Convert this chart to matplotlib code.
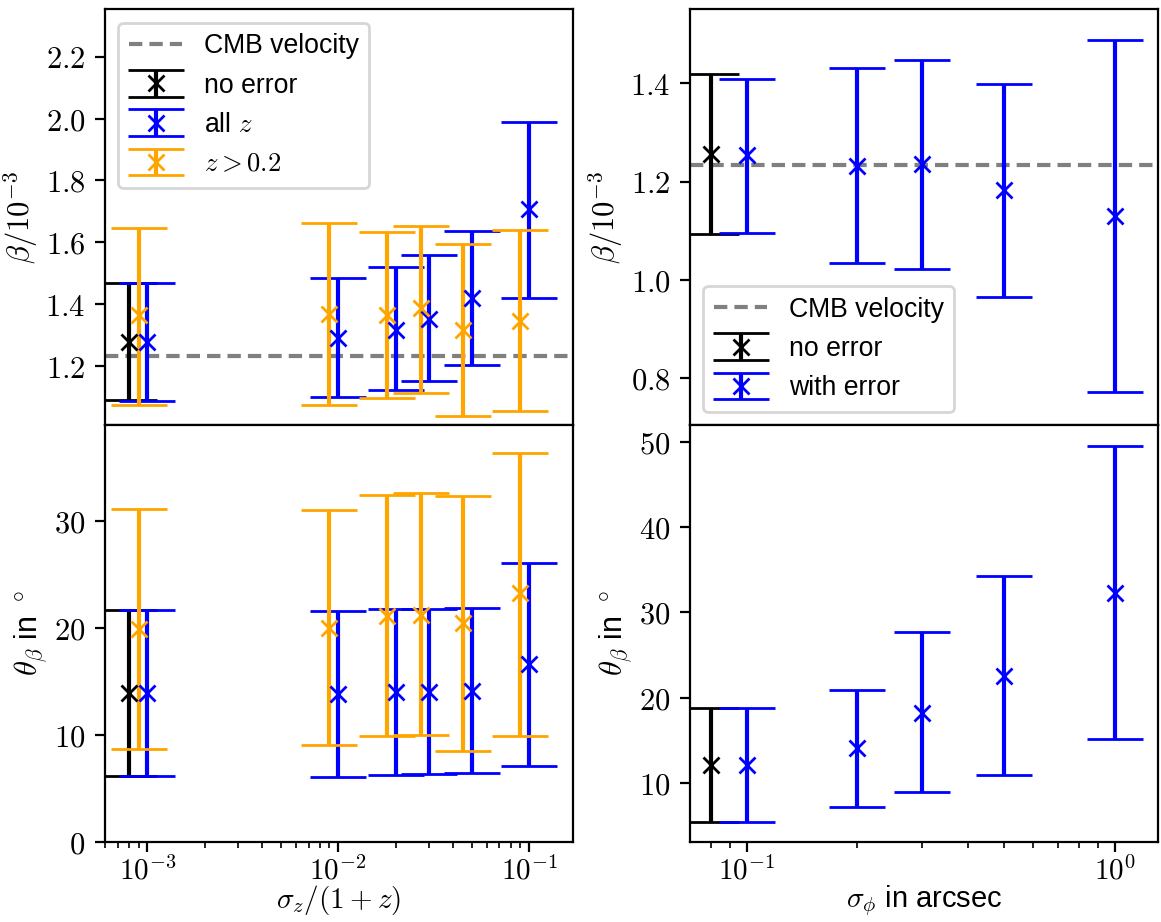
import numpy as np
import matplotlib
matplotlib.use("Agg")
import matplotlib.pyplot as plt
from matplotlib.ticker import FuncFormatter, NullFormatter, MultipleLocator

plt.rcParams['font.family'] = ['Liberation Sans', 'DejaVu Sans']
plt.rcParams['mathtext.fontset'] = 'cm'
plt.rcParams['font.size'] = 11
plt.rcParams['xtick.major.pad'] = 2
plt.rcParams['xtick.labelsize'] = 10.5

cmb_beta = 1.2336

# left column: redshift error sigma_z/(1+z)
sz_noerr = [0.8e-3]
sz_all = [1e-3, 1e-2, 2e-2, 3e-2, 5e-2, 1e-1]
sz_cut = [0.9e-3, 0.9e-2, 1.8e-2, 2.7e-2, 4.5e-2, 0.9e-1]

beta_noerr = [1.278]
beta_noerr_lo = [1.089]
beta_noerr_hi = [1.469]
beta_all = [1.278, 1.292, 1.318, 1.353, 1.420, 1.706]
beta_all_lo = [1.088, 1.100, 1.121, 1.151, 1.204, 1.420]
beta_all_hi = [1.469, 1.485, 1.520, 1.558, 1.637, 1.989]
beta_cut = [1.364, 1.367, 1.364, 1.386, 1.316, 1.346]
beta_cut_lo = [1.075, 1.073, 1.098, 1.113, 1.037, 1.053]
beta_cut_hi = [1.645, 1.661, 1.634, 1.652, 1.596, 1.641]

theta_noerr = [13.9]
theta_noerr_lo = [6.17]
theta_noerr_hi = [21.68]
theta_all = [13.9, 13.85, 14.0, 14.0, 14.1, 16.67]
theta_all_lo = [6.17, 6.02, 6.24, 6.33, 6.43, 7.11]
theta_all_hi = [21.68, 21.62, 21.75, 21.8, 21.84, 26.07]
theta_cut = [19.96, 20.05, 21.12, 21.2, 20.49, 23.3]
theta_cut_lo = [8.68, 9.0, 9.87, 10.0, 8.52, 9.87]
theta_cut_hi = [31.17, 31.08, 32.46, 32.7, 32.4, 36.4]

# right column: position error sigma_phi
sp_noerr = [0.08]
sp_err = [0.1, 0.2, 0.3, 0.5, 1.0]

pbeta_noerr = [1.256]
pbeta_noerr_lo = [1.094]
pbeta_noerr_hi = [1.420]
pbeta_err = [1.254, 1.232, 1.235, 1.182, 1.129]
pbeta_err_lo = [1.096, 1.033, 1.022, 0.965, 0.772]
pbeta_err_hi = [1.409, 1.432, 1.448, 1.399, 1.488]

ptheta_noerr = [12.1]
ptheta_noerr_lo = [5.42]
ptheta_noerr_hi = [18.75]
ptheta_err = [12.1, 14.16, 18.24, 22.51, 32.31]
ptheta_err_lo = [5.42, 7.24, 8.91, 10.93, 15.13]
ptheta_err_hi = [18.83, 20.88, 27.69, 34.22, 49.53]


def err(y, lo, hi):
    y = np.array(y)
    return [y - np.array(lo), np.array(hi) - y]


def eb(ax, x, y, lo, hi, color, label):
    ax.errorbar(x, y, yerr=err(y, lo, hi), fmt='x', color=color,
                capsize=10, label=label)


def logfmt(v, pos):
    return r"$10^{%d}$" % int(round(np.log10(v)))


def beta_axis(ax):
    ax.yaxis.set_major_locator(MultipleLocator(0.2))
    ax.yaxis.set_major_formatter(FuncFormatter(lambda v, p: "$%.1f$" % v))
    ax.set_ylabel(r"$\beta/10^{-3}$", labelpad=2)


def theta_axis(ax):
    ax.yaxis.set_major_locator(MultipleLocator(10))
    ax.yaxis.set_major_formatter(FuncFormatter(lambda v, p: "$%d$" % round(v)))
    ax.set_ylabel(r"$\theta_\beta$ in $^\circ$", labelpad=2)


fig, axs = plt.subplots(2, 2, figsize=(5.805, 4.61), dpi=200, sharex='col')
plt.subplots_adjust(left=0.0904, right=0.9977, top=0.9899, bottom=0.0873,
                    hspace=0, wspace=0.249)

ax = axs[0, 0]
ax.axhline(cmb_beta, color='gray', ls=(0, (3.2, 1.7)), lw=1.5, label='CMB velocity')
eb(ax, sz_noerr, beta_noerr, beta_noerr_lo, beta_noerr_hi, 'k', 'no error')
eb(ax, sz_all, beta_all, beta_all_lo, beta_all_hi, 'b', 'all $z$')
eb(ax, sz_cut, beta_cut, beta_cut_lo, beta_cut_hi, 'orange', '$z > 0.2$')
ax.set_ylim(1.008, 2.353)
beta_axis(ax)
ax.legend(loc='upper left', fontsize=9.6)

ax = axs[1, 0]
eb(ax, sz_noerr, theta_noerr, theta_noerr_lo, theta_noerr_hi, 'k', 'no error')
eb(ax, sz_all, theta_all, theta_all_lo, theta_all_hi, 'b', 'all $z$')
eb(ax, sz_cut, theta_cut, theta_cut_lo, theta_cut_hi, 'orange', '$z > 0.2$')
ax.set_ylim(0, 39)
theta_axis(ax)
ax.set_xscale('log')
ax.set_xlim(6.0e-4, 0.1706)
ax.set_xlabel(r"$\sigma_z/(1+z)$", labelpad=-1, fontsize=10.5)

ax = axs[0, 1]
ax.axhline(cmb_beta, color='gray', ls=(0, (3.2, 1.7)), lw=1.5, label='CMB velocity')
eb(ax, sp_noerr, pbeta_noerr, pbeta_noerr_lo, pbeta_noerr_hi, 'k', 'no error')
eb(ax, sp_err, pbeta_err, pbeta_err_lo, pbeta_err_hi, 'b', 'with error')
ax.set_ylim(0.703, 1.551)
beta_axis(ax)
ax.legend(loc='lower left', fontsize=9.6)

ax = axs[1, 1]
eb(ax, sp_noerr, ptheta_noerr, ptheta_noerr_lo, ptheta_noerr_hi, 'k', 'no error')
eb(ax, sp_err, ptheta_err, ptheta_err_lo, ptheta_err_hi, 'b', 'with error')
ax.set_ylim(3.16, 51.9)
theta_axis(ax)
ax.set_xscale('log')
ax.set_xlim(0.0702, 1.311)
ax.set_xlabel(r"$\sigma_\phi$ in arcsec", labelpad=-1, fontsize=10.5)

for a in axs[1]:
    a.xaxis.set_major_formatter(FuncFormatter(logfmt))
    a.xaxis.set_minor_formatter(NullFormatter())

fig.savefig("out.png", dpi=200)
